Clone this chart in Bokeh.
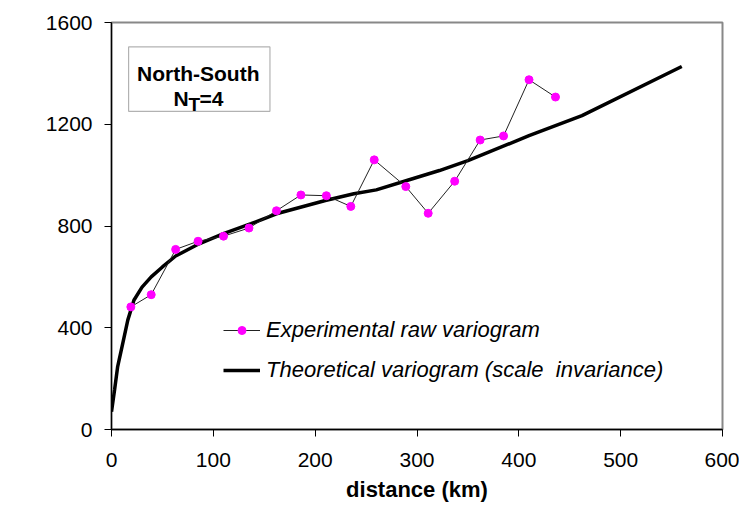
from bokeh.plotting import figure
from bokeh.models import Range1d, FixedTicker, Label, BoxAnnotation, Legend, LegendItem
from bokeh.embed import file_html
from bokeh.resources import INLINE
import math

# Experimental raw variogram (lag distance km, variogram mm^2)
exp_x = [19, 39, 63, 85, 110, 135, 162, 186, 211, 235, 258, 289, 311, 337, 362, 385, 410, 436]
exp_y = [482, 530, 708, 740, 760, 792, 860, 922, 919, 877, 1060, 955, 850, 976, 1138, 1154, 1375, 1307]

# Theoretical variogram (scale invariance)
theo_x = [0, 3, 6, 11, 16, 22, 30, 39, 50, 63, 86, 110, 137, 162, 210, 238, 260, 290, 322, 350, 410, 462, 560]
theo_y = [70, 155, 246, 338, 430, 508, 560, 600, 639, 682, 730, 770, 809, 848, 900, 927, 942, 979, 1018, 1057, 1155, 1234, 1427]

x_ticks = [0, 100, 200, 300, 400, 500, 600]
y_ticks = [0, 400, 800, 1200, 1600]

FONT = "Liberation Sans"

p = figure(width=739, height=511, output_backend="svg", toolbar_location=None,
           x_range=Range1d(0, 600), y_range=Range1d(0, 1600),
           min_border_left=111, min_border_right=17, min_border_top=22, min_border_bottom=82)
p.background_fill_color = "white"
p.border_fill_color = "white"
p.outline_line_color = "#888888"
p.outline_line_width = 2
p.xgrid.visible = False
p.ygrid.visible = False

for ax in (p.xaxis, p.yaxis):
    ax.axis_line_color = "black"
    ax.axis_line_width = 1.3
    ax.major_tick_line_color = "black"
    ax.major_tick_out = 7
    ax.major_tick_in = 0
    ax.minor_tick_line_color = None
    ax.major_label_text_font = FONT
    ax.major_label_text_font_size = "21px"
    ax.major_label_text_color = "black"

p.xaxis.ticker = FixedTicker(ticks=x_ticks)
p.yaxis.ticker = FixedTicker(ticks=y_ticks)
p.xaxis.major_label_standoff = 16
p.yaxis.major_label_standoff = 12
p.xaxis.axis_label = "distance (km)"
p.xaxis.axis_label_text_font = FONT
p.xaxis.axis_label_text_font_size = "22px"
p.xaxis.axis_label_text_font_style = "bold"
p.xaxis.axis_label_text_color = "black"
p.xaxis.axis_label_standoff = 7

# y axis title placed as in the reference (below frame centre)
p.add_layout(Label(x=-81, y=167, x_units="screen", y_units="screen",
                   text="variogram (mm²)", angle=math.pi / 2,
                   text_align="center", text_baseline="middle",
                   text_font=FONT, text_font_size="21px", text_font_style="bold",
                   text_color="black"))

# series
theo = p.line(theo_x, theo_y, line_color="black", line_width=3.5)
exp_line = p.line(exp_x, exp_y, line_color="#222222", line_width=1)
exp_pts = p.scatter(exp_x, exp_y, marker="circle", size=8, fill_color="#FF00FF",
                    line_color="#FF00FF")

legend = Legend(items=[
    LegendItem(label="Experimental raw variogram", renderers=[exp_line, exp_pts]),
    LegendItem(label="Theoretical variogram (scale  invariance)", renderers=[theo]),
], location=(112, 39))
legend.padding = 0
legend.margin = 0
legend.spacing = 0
legend.glyph_width = 37
legend.glyph_height = 20
legend.label_height = 40
legend.label_standoff = 6
legend.label_text_font = FONT
legend.label_text_font_size = "22px"
legend.label_text_font_style = "italic"
legend.label_text_color = "black"
legend.border_line_color = None
legend.background_fill_alpha = 0
p.add_layout(legend, "center")

# title box
p.add_layout(BoxAnnotation(left=16.8, right=155.6, bottom=1251, top=1504,
                           fill_color="white", fill_alpha=1,
                           line_color="black", line_width=1.2))
p.add_layout(Label(x=85.2, y=1400, text="North-South", text_align="center",
                   text_baseline="alphabetic", text_font=FONT, text_font_size="21px",
                   text_font_style="bold", text_color="black"))
p.add_layout(Label(x=60.9, y=1300, text="N", text_align="left",
                   text_baseline="alphabetic", text_font=FONT, text_font_size="21px",
                   text_font_style="bold", text_color="black"))
p.add_layout(Label(x=75.6, y=1279, text="T", text_align="left",
                   text_baseline="alphabetic", text_font=FONT, text_font_size="19px",
                   text_font_style="bold", text_color="black"))
p.add_layout(Label(x=86.4, y=1300, text="=4", text_align="left",
                   text_baseline="alphabetic", text_font=FONT, text_font_size="21px",
                   text_font_style="bold", text_color="black"))

open("out.html", "w").write(file_html(p, INLINE))
